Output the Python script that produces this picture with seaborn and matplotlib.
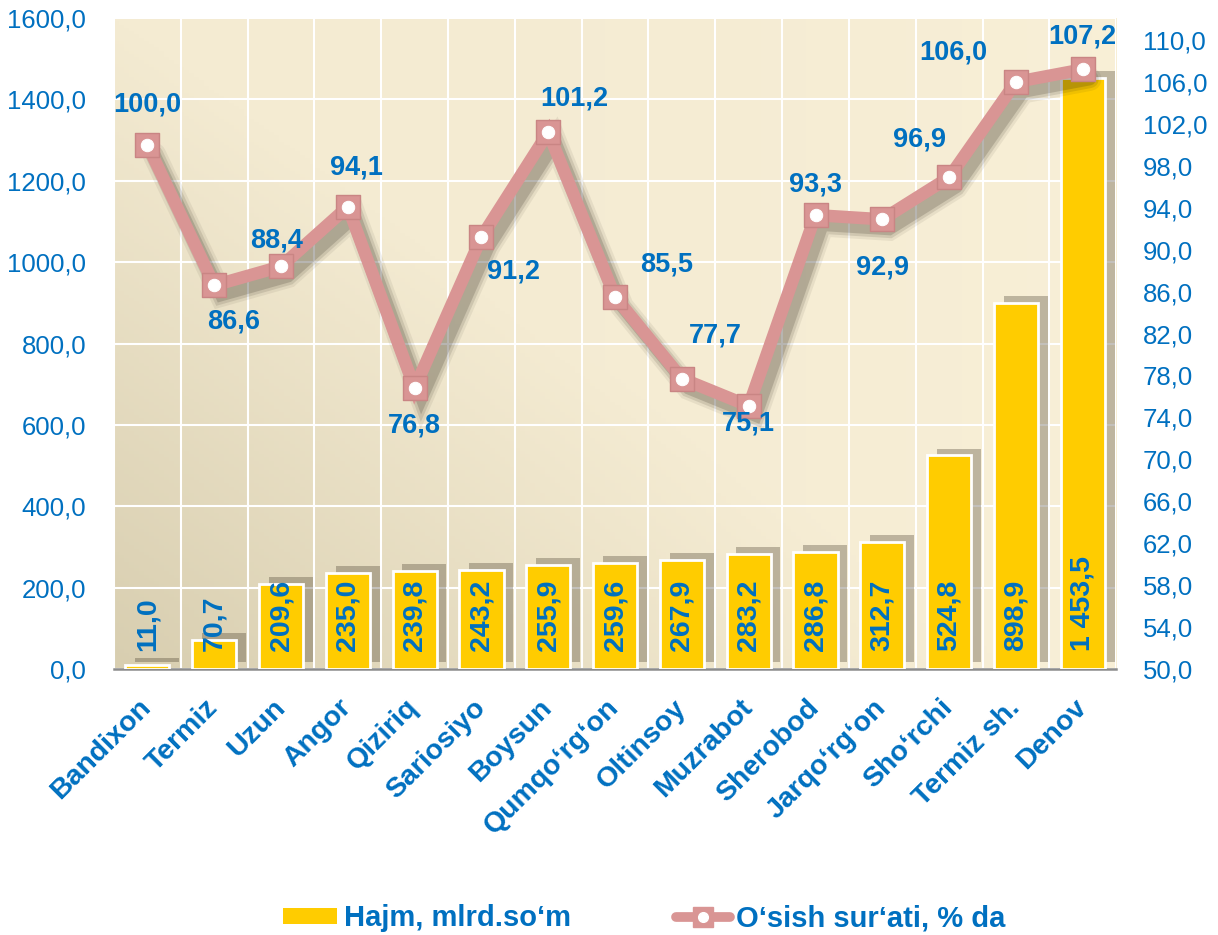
import numpy as np
import pandas as pd
import matplotlib
matplotlib.use("Agg")
import matplotlib.pyplot as plt
import matplotlib.patheffects as pe
from matplotlib.lines import Line2D
from matplotlib.patches import Patch
from matplotlib.legend_handler import HandlerTuple
import seaborn as sns

# ---------------- data ----------------
categories = ["Bandixon", "Termiz", "Uzun", "Angor", "Qiziriq", "Sariosiyo", "Boysun",
              "Qumqo‘rg‘on", "Oltinsoy", "Muzrabot", "Sherobod", "Jarqo‘rg‘on",
              "Sho‘rchi", "Termiz sh.", "Denov"]
volume = [11.0, 70.7, 209.6, 235.0, 239.8, 243.2, 255.9, 259.6, 267.9, 283.2,
          286.8, 312.7, 524.8, 898.9, 1453.5]
growth = [100.0, 86.6, 88.4, 94.1, 76.8, 91.2, 101.2, 85.5, 77.7, 75.1,
          93.3, 92.9, 96.9, 106.0, 107.2]
left_ticks = [0, 200, 400, 600, 800, 1000, 1200, 1400, 1600]
right_ticks = [50, 54, 58, 62, 66, 70, 74, 78, 82, 86, 90, 94, 98, 102, 106, 110]
series_names = ["Hajm, mlrd.so‘m", "O‘sish sur‘ati, % da"]

# label offsets (points) for the growth labels - styling only
growth_label_offsets = [(0, 29), (14, -26), (-3, 19), (6, 28), (0, -27), (23, -25),
                        (19, 24), (37, 23), (24, 31), (0, -13), (0, 22), (0, -35),
                        (-21, 27), (-45, 21), (0, 24)]

BLUE = "#0070C0"
YELLOW = "#FFCC00"
PINK = "#D99594"


def fmt(v, sep=" "):
    return f"{v:,.1f}".replace(",", sep).replace(".", ",")


def fmt_axis(v):
    return f"{v:.1f}".replace(".", ",")


sns.set_theme(style="white")
plt.rcParams["font.family"] = ["Liberation Sans", "DejaVu Sans"]

df = pd.DataFrame({"cat": categories, "vol": volume, "growth": growth})

fig = plt.figure(figsize=(12.18, 9.35), dpi=100)
pos = [0.0936, 0.2845, 0.8228, 0.6962]

# gradient background
bg = fig.add_axes(pos, zorder=-5)
ny, nx = 200, 200
yy, xx = np.mgrid[0:1:ny * 1j, 0:1:nx * 1j]
top = np.array([244, 235, 210]) / 255
bot = np.array([216, 206, 176]) / 255
right = np.array([251, 242, 218]) / 255
w = np.clip(yy[..., None] + xx[..., None] * 1.1, 0, 1)
img = bot * (1 - w) + top * w
img = img * (1 - xx[..., None] ** 2 * 0.6) + right * (xx[..., None] ** 2 * 0.6)
img = np.flipud(img)
bg.imshow(img, aspect="auto", extent=[0, 1, 0, 1], origin="upper")
bg.set_axis_off()

ax = fig.add_axes(pos)
ax.patch.set_alpha(0)

sns.barplot(data=df, x="cat", y="vol", color=YELLOW, saturation=1, width=0.66,
            edgecolor="white", linewidth=2, ax=ax, zorder=3)
for p in ax.patches:
    p.set_path_effects([pe.SimplePatchShadow(offset=(7, 5), shadow_rgbFace="#3a3020", alpha=0.3),
                        pe.Normal()])

ax.set_xlim(-0.5, len(categories) - 0.5)
ax.set_ylim(0, 1600)
ax.set_yticks(left_ticks)
ax.set_yticklabels([fmt_axis(v) for v in left_ticks])
ax.set_xticks(np.arange(-0.5, len(categories), 1), minor=True)
ax.set_xlabel("")
ax.set_ylabel("")
ax.set_axisbelow(True)
ax.grid(which="major", axis="y", color="white", lw=1.5)
ax.grid(which="minor", axis="x", color="white", lw=1.5)
ax.grid(which="major", axis="x", visible=False)
for s in ["left", "right", "top"]:
    ax.spines[s].set_visible(False)
ax.spines["bottom"].set_color("#8c8c8c")
ax.spines["bottom"].set_linewidth(1.8)
ax.tick_params(axis="y", length=0, pad=20, labelsize=18.5, labelcolor=BLUE)
ax.tick_params(axis="x", which="major", length=0, pad=25)
ax.tick_params(axis="x", which="minor", length=7, width=1.8, color="#8c8c8c", direction="out")
ax.set_xticks(range(len(categories)))
ax.set_xticklabels(categories, rotation=45, ha="right", va="center", rotation_mode="anchor",
                   fontsize=20.5, fontweight="bold", color=BLUE)

# bar value labels (vertical, inside base)
for i, v in enumerate(volume):
    ax.annotate(fmt(v), (i, 0), xytext=(0, 13), textcoords="offset points",
                rotation=90, ha="center", va="bottom", fontsize=20.5,
                fontweight="bold", color=BLUE, zorder=6)

# growth line on secondary axis
ax2 = ax.twinx()
ax2.set_ylim(50, 112.1)
ax2.set_yticks(right_ticks)
ax2.set_yticklabels([fmt_axis(v) for v in right_ticks])
ax2.tick_params(axis="y", length=0, pad=19, labelsize=18.5, labelcolor=BLUE)
ax2.grid(False)
for s in ax2.spines.values():
    s.set_visible(False)

xpos = np.arange(len(categories))
shadow = [pe.SimpleLineShadow(offset=(5, -7), shadow_color="#2a2418", alpha=0.07, linewidth=17),
          pe.SimpleLineShadow(offset=(5, -7), shadow_color="#2a2418", alpha=0.12, linewidth=13),
          pe.SimpleLineShadow(offset=(5, -7), shadow_color="#2a2418", alpha=0.18, linewidth=9),
          pe.Normal()]
sns.lineplot(x=xpos, y=growth, sort=False, ax=ax2, color=PINK, lw=9,
             path_effects=shadow, zorder=5, legend=False)
ax2.lines[-1].set_solid_joinstyle("miter")
sns.scatterplot(x=xpos, y=growth, ax=ax2, color=PINK, marker="s", s=300,
                edgecolor="#c98584", linewidth=1, zorder=5.5, legend=False)
sns.scatterplot(x=xpos, y=growth, ax=ax2, color="white", s=80, edgecolor="white",
                zorder=6, legend=False)

for i, v in enumerate(growth):
    dx, dy = growth_label_offsets[i]
    ax2.annotate(fmt(v), (i, v), xytext=(dx, dy), textcoords="offset points",
                 ha="center", va="center", fontsize=19.5, fontweight="bold", color=BLUE, zorder=7)

ax2.set_xlim(-0.5, len(categories) - 0.5)

# legend
h_bar = Patch(facecolor=YELLOW, edgecolor="none")
h_line = (Line2D([], [], color=PINK, lw=7),
          Line2D([], [], ls="", marker="s", markersize=15,
                 markerfacecolor=PINK, markeredgecolor=PINK),
          Line2D([], [], ls="", marker="o", markersize=7,
                 markerfacecolor="white", markeredgecolor="white"))
fig.legend([h_bar, h_line], series_names, loc="center", bbox_to_anchor=(0.529, 0.018),
           ncol=2, frameon=False, handler_map={tuple: HandlerTuple(ndivide=1, pad=0)},
           columnspacing=3.6, handlelength=1.85, handletextpad=0.22, handleheight=0.5,
           prop={"weight": "bold", "size": 21}, labelcolor=BLUE)

fig.savefig("out.png", dpi=100)
